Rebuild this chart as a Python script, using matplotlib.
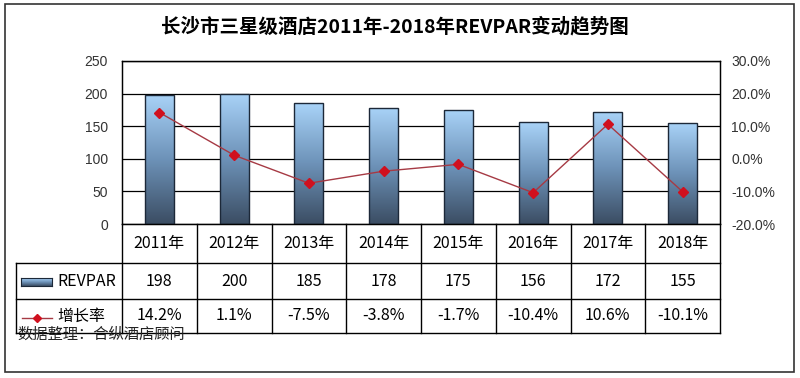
import matplotlib
matplotlib.use('Agg')
import matplotlib.pyplot as plt
import numpy as np
from matplotlib.colors import LinearSegmentedColormap
from matplotlib.patches import Rectangle
from matplotlib.lines import Line2D

years = ['2011年', '2012年', '2013年', '2014年', '2015年', '2016年', '2017年', '2018年']
revpar = [198, 200, 185, 178, 175, 156, 172, 155]
growth = [14.2, 1.1, -7.5, -3.8, -1.7, -10.4, 10.6, -10.1]

cjk = ['Noto Sans CJK SC', 'DejaVu Sans']
latin = ['Liberation Sans', 'DejaVu Sans']

W, H = 800, 378


# pixel -> figure fraction helpers
def fx(px):
    return px / W


def fy(py):
    return 1 - py / H


fig = plt.figure(figsize=(8, 3.78), dpi=100)
fig.patch.set_facecolor('white')

# outer chart border
fig.patches.append(Rectangle((fx(5), fy(372)), fx(794) - fx(5), fy(4) - fy(372),
                             transform=fig.transFigure, fill=False,
                             edgecolor='#333333', linewidth=1.2))

fig.text(fx(395), fy(27), '长沙市三星级酒店2011年-2018年REVPAR变动趋势图',
         ha='center', va='center', fontsize=14, fontweight='bold', family=cjk)

ax = fig.add_axes([fx(122), fy(224), fx(720) - fx(122), fy(61) - fy(224)])
x = np.arange(len(years))

cmap = LinearSegmentedColormap.from_list('bar', ['#3b4d63', '#6d92b8', '#a9d3f8'])
bars = ax.bar(x, revpar, 0.39, facecolor='none', edgecolor='#1c2838',
              linewidth=1, zorder=3)
grad = np.linspace(0, 1, 256).reshape(-1, 1)
for b in bars:
    x0, w, h = b.get_x(), b.get_width(), b.get_height()
    im = ax.imshow(grad, cmap=cmap, aspect='auto', origin='lower',
                   extent=[x0, x0 + w, 0, h], zorder=2)
    im.set_clip_path(b)

ax.set_xlim(-0.5, len(years) - 0.5)
ax.set_ylim(0, 250)
ax.set_yticks(range(0, 251, 50))
ax.set_xticks([])
ax.yaxis.grid(True, color='black', linewidth=0.9)
ax.set_axisbelow(True)
ax.tick_params(axis='y', length=0, pad=10, labelsize=10, labelcolor='#333333')
for lab in ax.get_yticklabels():
    lab.set_family(latin)
for s in ax.spines.values():
    s.set_color('black')
    s.set_linewidth(0.9)

ax2 = ax.twinx()
ax2.plot(x, growth, color='#a63a44', linewidth=1, marker='D', markersize=5,
         markerfacecolor='#d0101e', markeredgecolor='#d0101e', zorder=4)
ax2.set_ylim(-20, 30)
ax2.set_yticks(range(-20, 31, 10))
ax2.set_yticklabels([f'{v:.1f}%' for v in range(-20, 31, 10)])
ax2.tick_params(axis='y', length=0, pad=8, labelsize=10, labelcolor='#333333')
for lab in ax2.get_yticklabels():
    lab.set_family(latin)
for s in ax2.spines.values():
    s.set_color('black')
    s.set_linewidth(0.9)

# data table below the plot
edges = np.arange(len(years) + 1) - 0.5
xs = fig.transFigure.inverted().transform(
    ax.transData.transform(np.column_stack([edges, np.zeros_like(edges)])))[:, 0]
centers = (xs[:-1] + xs[1:]) / 2
row_top, r1, r2, row_bot = fy(224), fy(263), fy(299), fy(333)
lw = 1.0
for xe in xs:
    fig.add_artist(Line2D([xe, xe], [row_top, row_bot], color='black', lw=lw))
fig.add_artist(Line2D([fx(16), fx(16)], [r1, row_bot], color='black', lw=lw))
for yy in (r1, r2, row_bot):
    fig.add_artist(Line2D([fx(16), xs[-1]], [yy, yy], color='black', lw=lw))

tfs = 11.5
for cx, yr, rv, g in zip(centers, years, revpar, growth):
    fig.text(cx, (row_top + r1) / 2, yr, ha='center', va='center', fontsize=tfs, family=cjk)
    fig.text(cx, (r1 + r2) / 2, str(rv), ha='center', va='center', fontsize=tfs, family=cjk)
    fig.text(cx, (r2 + row_bot) / 2, f'{g:.1f}%', ha='center', va='center', fontsize=tfs, family=cjk)

# legend keys in the table's first column
kax = fig.add_axes([fx(21), fy(286), fx(52) - fx(21), fy(278) - fy(286)])
kax.imshow(grad, cmap=cmap, aspect='auto', origin='lower', extent=[0, 1, 0, 1])
kax.set_xticks([])
kax.set_yticks([])
for s in kax.spines.values():
    s.set_color('#1c2838')
fig.text(fx(57), (r1 + r2) / 2, 'REVPAR', ha='left', va='center', fontsize=tfs, family=cjk)
fig.add_artist(Line2D([fx(22), fx(52)], [fy(318), fy(318)], color='#a63a44', lw=1))
fig.add_artist(Line2D([fx(37)], [fy(318)], marker='D', markersize=4,
                      color='#d0101e', lw=0))
fig.text(fx(57), fy(316), '增长率', ha='left', va='center', fontsize=tfs, family=cjk)

fig.text(fx(17), fy(334), '数据整理：合纵酒店顾问', ha='left', va='center',
         fontsize=11, family=cjk, color='#222222')

fig.savefig('out.png', dpi=100)
